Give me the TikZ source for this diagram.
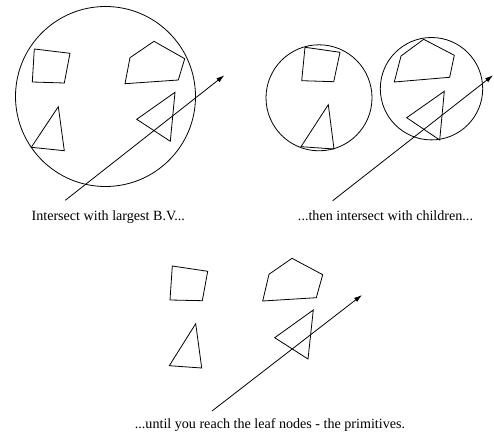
\documentclass[tikz,border=0pt]{standalone}
\usepackage{fontspec}
\setmainfont{Liberation Serif}
\usetikzlibrary{arrows.meta}
\begin{document}
\begin{tikzpicture}[x=1pt,y=-1pt,
  outline/.style={line width=0.8pt,line join=miter},
  ray/.style={line width=0.8pt,-{Latex[length=8pt,width=5pt]}},
  caption/.style={font=\fontsize{14.1}{16}\selectfont,inner sep=0pt,anchor=base}]
\useasboundingbox (0,0) rectangle (494,435);
% ---------- panel 1 ----------
\draw[outline] (105.5,96.5) circle (90);
\draw[outline] (34.3,49) -- (70,53.3) -- (64.3,83) -- (32.3,82) -- cycle;
\draw[outline] (130,57.7) -- (154,41.3) -- (184.7,58.7) -- (178.3,80) -- (125,83.7) -- cycle;
\draw[outline] (58.3,106.7) -- (64.3,150.7) -- (31.3,147.3) -- cycle;
\draw[outline] (175,92.3) -- (170.3,141.3) -- (136.7,119.3) -- cycle;
\coordinate (r1s) at (65.3,200.3);
\coordinate (r1e) at (224.3,75.3);
\draw[ray] (r1s) -- (r1e);
\node[caption] (c1) at (108.3,221) {Intersect with largest B.V...};
% ---------- panel 2 ----------
\draw[outline] (319,97.8) circle (53);
\draw[outline] (305,47.3) -- (340,52.3) -- (333.7,81.7) -- (301.7,80.7) -- cycle;
\draw[outline] (328.3,104.7) -- (334,149) -- (301,146.7) -- cycle;
\draw[outline] (431.5,88.7) circle (51.2);
\draw[outline] (401,56) -- (423.7,39.3) -- (454.3,55.3) -- (449.7,77.3) -- (394.3,82) -- cycle;
\draw[outline] (444.3,91.3) -- (439.7,140) -- (406.7,117.7) -- cycle;
\coordinate (r2s) at (332.7,200.7);
\coordinate (r2e) at (493,75.3);
\draw[ray] (r2s) -- (r2e);
\node[caption] (c2) at (385.5,221) {...then intersect with children...};
% ---------- panel 3 ----------
\draw[outline] (172.3,266) -- (207.7,271.3) -- (202.3,300.7) -- (170,300) -- cycle;
\draw[outline] (269,274.3) -- (292,258.3) -- (322.7,274.7) -- (316.3,297.7) -- (262.7,301) -- cycle;
\draw[outline] (195.7,323.7) -- (201.7,368) -- (169.3,365.7) -- cycle;
\draw[outline] (313.3,310) -- (308,359) -- (274.7,337.7) -- cycle;
\coordinate (r3s) at (212,411);
\coordinate (r3e) at (362,295);
\draw[ray] (r3s) -- (r3e);
\node[caption] (c3) at (270,428) {...until you reach the leaf nodes - the primitives.};
\end{tikzpicture}
\end{document}
